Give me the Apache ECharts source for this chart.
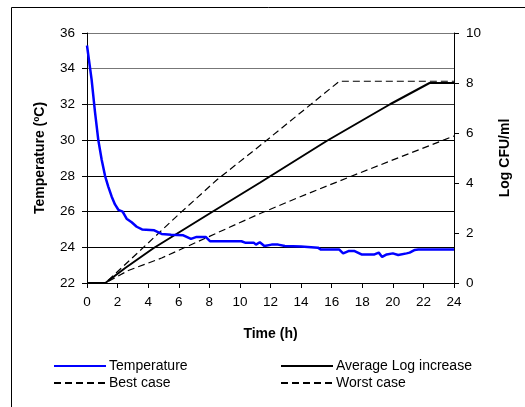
<!DOCTYPE html>
<html>
<head>
<meta charset="utf-8">
<script src="https://cdn.jsdelivr.net/npm/echarts@6/dist/echarts.min.js"></script>
<style>
  html, body { margin: 0; padding: 0; background: #fff; }
  #chart { width: 525px; height: 407px; }
</style>
</head>
<body>
<div id="chart"></div>
<script>
// Time (h) / value pairs
var temperature = [
  [0, 35.3], [0.3, 33.4], [0.52, 31.6], [0.74, 30.0], [0.96, 28.9], [1.18, 28.0],
  [1.39, 27.4], [1.61, 26.85], [1.83, 26.4], [2.05, 26.1], [2.33, 26.0], [2.59, 25.6],
  [2.92, 25.4], [3.25, 25.15], [3.6, 25.0], [4.4, 24.95], [4.88, 24.75], [5.5, 24.7],
  [6.3, 24.67], [6.8, 24.47], [7.17, 24.58], [7.76, 24.58], [8.04, 24.34], [10.1, 24.34],
  [10.34, 24.26], [10.9, 24.26], [11.05, 24.15], [11.3, 24.28], [11.6, 24.07], [12.07, 24.15],
  [12.5, 24.15], [12.94, 24.07], [14.0, 24.04], [15.1, 23.98], [15.3, 23.87], [16.5, 23.87],
  [16.75, 23.66], [17.1, 23.79], [17.5, 23.79], [17.95, 23.6], [18.8, 23.6], [19.08, 23.7],
  [19.3, 23.46], [19.6, 23.6], [20.0, 23.66], [20.35, 23.57], [20.9, 23.66], [21.1, 23.7],
  [21.44, 23.85], [21.66, 23.87], [24, 23.87]
];
var avgLog = [
  [0, 0], [1.2, 0], [2.5, 0.6], [4.34, 1.39], [8.15, 2.83], [11.3, 4.01],
  [15.67, 5.68], [19.82, 7.15], [21.55, 7.72], [22.4, 8.0], [24, 8.0]
];
var bestCase = [[0, 0], [1.2, 0], [6.08, 2.79], [8.48, 4.12], [11.63, 5.65], [16.5, 8.07], [24, 8.07]];
var worstCase = [[0, 0], [1.2, 0], [2.7, 0.5], [4.88, 1.0], [11.1, 2.72], [13.7, 3.39], [17.2, 4.25], [24, 5.88]];

var seriesNames = ['Temperature', 'Average Log increase', 'Best case', 'Worst case'];

var font = "'Liberation Sans', Arial, sans-serif";

var chart = echarts.init(document.getElementById('chart'), null, { renderer: 'canvas' });

var tickLabel = { color: '#000', fontFamily: font, fontSize: 13.5 };
var titleStyle = { color: '#000', fontFamily: font, fontSize: 14, fontWeight: 'bold' };

function legendBlock(names, left) {
  return {
    data: names,
    orient: 'vertical',
    left: left, top: 359,
    padding: 0,
    itemWidth: 52, itemHeight: 14, itemGap: 3,
    itemStyle: { opacity: 0 },
    textStyle: { color: '#000', fontFamily: font, fontSize: 14, padding: [0, 0, 0, -2] }
  };
}

chart.setOption({
  animation: false,
  backgroundColor: '#fff',
  graphic: [{
    type: 'rect',
    shape: { x: 11.5, y: 7.5, width: 700, height: 600 },
    style: { fill: null, stroke: '#000', lineWidth: 1 },
    silent: true
  }],
  grid: { left: 87, right: 71, top: 33, bottom: 124 },
  legend: [
    legendBlock([seriesNames[0], seriesNames[2]], 53),
    legendBlock([seriesNames[1], seriesNames[3]], 280)
  ],
  xAxis: {
    type: 'value',
    min: 0, max: 24, interval: 2,
    name: 'Time (h)', nameLocation: 'middle', nameGap: 44,
    nameTextStyle: titleStyle,
    axisLine: { lineStyle: { color: '#000', width: 1 } },
    axisTick: { show: true, length: 5, lineStyle: { color: '#000' } },
    axisLabel: Object.assign({ margin: 12 }, tickLabel),
    splitLine: { show: false }
  },
  yAxis: [{
    type: 'value',
    min: 22, max: 36, interval: 2,
    name: 'Temperature (ºC)', nameLocation: 'middle', nameGap: 40,
    nameTextStyle: titleStyle,
    axisLine: { show: true, lineStyle: { color: '#000', width: 1 } },
    axisTick: { show: true, length: 5, lineStyle: { color: '#000' } },
    axisLabel: Object.assign({ margin: 12 }, tickLabel),
    splitLine: { show: true, lineStyle: { color: ['#000', '#000', '#000', '#000', '#000', '#333', '#777', '#777'], width: 1 } }
  }, {
    type: 'value',
    min: 0, max: 10, interval: 2,
    name: 'Log CFU/ml', nameLocation: 'middle', nameGap: 44,
    nameTextStyle: titleStyle,
    position: 'right',
    axisLine: { show: true, lineStyle: { color: '#000', width: 1 } },
    axisTick: { show: true, length: 5, lineStyle: { color: '#000' } },
    axisLabel: Object.assign({ margin: 12 }, tickLabel),
    splitLine: { show: false }
  }],
  series: [{
    name: seriesNames[1], type: 'line', yAxisIndex: 1, data: avgLog,
    symbol: 'none', color: '#000',
    lineStyle: { color: '#000', width: 2 }
  }, {
    name: seriesNames[2], type: 'line', yAxisIndex: 1, data: bestCase,
    symbol: 'none', color: '#000',
    lineStyle: { color: '#000', width: 1.2, type: [7, 4] }
  }, {
    name: seriesNames[3], type: 'line', yAxisIndex: 1, data: worstCase,
    symbol: 'none', color: '#000',
    lineStyle: { color: '#000', width: 1.2, type: [7, 4] }
  }, {
    name: seriesNames[0], type: 'line', yAxisIndex: 0, data: temperature,
    symbol: 'none', color: '#0000ff',
    lineStyle: { color: '#0000ff', width: 2.5 }
  }]
});
</script>
</body>
</html>
